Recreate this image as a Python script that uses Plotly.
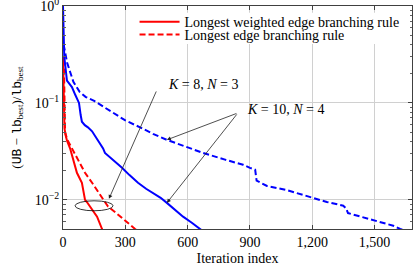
import numpy as np
import plotly.graph_objects as go

# ---------------- data ----------------
blue_solid_x = [0, 2, 6, 19, 43, 60, 77, 85, 91, 105, 120, 140, 164, 193, 202, 240, 284, 320, 361, 400, 433, 470, 500, 540, 578, 620, 660, 700]
blue_solid_y = [1.0, 0.40, 0.30, 0.17, 0.146, 0.12, 0.10, 0.075, 0.064, 0.059, 0.056, 0.051, 0.043, 0.034, 0.0305, 0.026, 0.0214, 0.018, 0.015, 0.013, 0.0118, 0.0105, 0.0093, 0.0079, 0.0067, 0.0058, 0.005, 0.0043]

blue_dash_x = [3, 10, 20, 34, 50, 80, 110, 150, 200, 250, 300, 371, 433, 500, 580, 674, 780, 867, 900, 925, 932, 982, 1077, 1173, 1270, 1349, 1362, 1372, 1494, 1590, 1623, 1680]
blue_dash_y = [0.40, 0.33, 0.26, 0.21, 0.165, 0.13, 0.115, 0.105, 0.09, 0.077, 0.066, 0.056, 0.048, 0.0416, 0.036, 0.0305, 0.026, 0.023, 0.0214, 0.0205, 0.0158, 0.0139, 0.0126, 0.011, 0.0095, 0.0087, 0.0082, 0.0073, 0.0062, 0.0054, 0.005, 0.0045]

red_solid_x = [0, 2, 4, 7, 12, 19, 34, 48, 67, 91, 106, 115, 140, 164, 188, 200]
red_solid_y = [0.30, 0.15, 0.08, 0.055, 0.047, 0.041, 0.034, 0.026, 0.019, 0.015, 0.010, 0.0095, 0.0079, 0.0067, 0.005, 0.0045]

red_dash_x = [4, 6, 10, 20, 43, 58, 80, 106, 140, 188, 217, 250, 284, 347, 380]
red_dash_y = [0.28, 0.12, 0.05, 0.042, 0.034, 0.030, 0.024, 0.019, 0.015, 0.0107, 0.0085, 0.0075, 0.0065, 0.005, 0.0045]

legend_names = ["Longest weighted edge branching rule", "Longest edge branching rule"]
x_ticks = [0, 300, 600, 900, 1200, 1500]
y_ticks = [1, 0.1, 0.01]
y_ticktext = ["10<sup>0</sup>", "10<sup>−1</sup>", "10<sup>−2</sup>"]

FONT = "Liberation Serif"
MONO = "Liberation Mono"
RED = "#ff0000"
BLUE = "#0000ff"
FS = 14

fig = go.Figure()
fig.add_trace(go.Scatter(x=red_solid_x, y=red_solid_y, mode="lines", name=legend_names[0],
                         legend="legend", line=dict(color=RED, width=2)))
fig.add_trace(go.Scatter(x=red_dash_x, y=red_dash_y, mode="lines", name=legend_names[1],
                         legend="legend2", line=dict(color=RED, width=2, dash="6px,3px")))
fig.add_trace(go.Scatter(x=blue_solid_x, y=blue_solid_y, mode="lines", showlegend=False,
                         line=dict(color=BLUE, width=2)))
fig.add_trace(go.Scatter(x=blue_dash_x, y=blue_dash_y, mode="lines", showlegend=False,
                         line=dict(color=BLUE, width=2, dash="6px,3px")))

def interp_log(xs, ys, x):
    return float(np.interp(x, xs, np.log10(ys)))

# white background behind the legend
fig.add_shape(type="rect", xref="paper", yref="paper", x0=0.195, x1=0.99, y0=0.83, y1=0.97,
              fillcolor="white", line=dict(width=0), layer="above")

# ellipse around the K=8,N=3 curves
ell_x0, ell_x1 = 58, 241
ell_ly0, ell_ly1 = -2.113, -2.01
fig.add_shape(type="circle", xref="x", yref="y", x0=ell_x0, x1=ell_x1,
              y0=10 ** ell_ly0, y1=10 ** ell_ly1, line=dict(color="black", width=0.8))

arrow_style = dict(showarrow=True, arrowhead=2, arrowsize=1, arrowwidth=0.8, arrowcolor="#222",
                   axref="x", ayref="y", xref="x", yref="y", text="")
# K=8 arrow
fig.add_annotation(x=221, y=-1.99, ax=452, ay=-0.866, **arrow_style)
# K=10 arrows
tail_x, tail_ly = 842, -1.103
fig.add_annotation(x=500, y=interp_log(blue_dash_x, blue_dash_y, 500), ax=tail_x, ay=tail_ly, **arrow_style)
fig.add_annotation(x=500, y=interp_log(blue_solid_x, blue_solid_y, 500), ax=tail_x, ay=tail_ly, **arrow_style)

fig.add_annotation(x=498, y=-0.814, xref="x", yref="y", xanchor="left", yanchor="middle",
                   text="<i>K</i> = 8, <i>N</i> = 3", showarrow=False,
                   font=dict(family=FONT, size=14, color="black"))
fig.add_annotation(x=878, y=-1.072, xref="x", yref="y", xanchor="left", yanchor="middle",
                   text="<i>K</i> = 10, <i>N</i> = 4", showarrow=False,
                   font=dict(family=FONT, size=14, color="black"))

minor_vals = [m * 10.0 ** e for e in (-3, -2, -1) for m in range(2, 10)]

ytitle = ("(<span style=\"font-family:%s\">UB</span> − <span style=\"font-family:%s\">lb</span>"
          "<sub>best</sub>)/<span style=\"font-family:%s\">lb</span><sub>best</sub>") % (MONO, MONO, MONO)

fig.update_xaxes(range=[0, 1680], tickvals=x_ticks, tickformat=",", showgrid=True,
                 gridcolor="#d0d0d0", gridwidth=1, zeroline=False, automargin=False,
                 showline=True, mirror="ticks", linecolor="#404040", linewidth=1,
                 ticks="inside", ticklen=4, tickcolor="#404040", ticklabeloverflow="allow",
                 tickfont=dict(family=FONT, size=FS, color="black"),
                 title=dict(text="Iteration index", font=dict(family=FONT, size=FS, color="black"), standoff=4))
fig.update_yaxes(type="log", range=[np.log10(0.005), 0.0005], tickvals=y_ticks, ticktext=y_ticktext,
                 showgrid=True, gridcolor="#d0d0d0", gridwidth=1, zeroline=False, automargin=False,
                 showline=True, mirror="ticks", linecolor="#404040", linewidth=1,
                 ticks="inside", ticklen=4, tickcolor="#404040", ticklabeloverflow="allow",
                 minor=dict(tickvals=minor_vals, ticks="inside", ticklen=2.5, tickcolor="#606060", showgrid=False),
                 tickfont=dict(family=FONT, size=FS, color="black"),
                 title=dict(text=ytitle, font=dict(family=FONT, size=13, color="black"), standoff=10))

leg_common = dict(xanchor="left", yanchor="middle", bgcolor="rgba(0,0,0,0)",
                  font=dict(family=FONT, size=14, color="black"), itemwidth=40)
fig.update_layout(
    width=416, height=268,
    margin=dict(l=63, r=4, t=6, b=39),
    font=dict(family=FONT, size=14, color="black"),
    plot_bgcolor="white", paper_bgcolor="white",
    legend=dict(x=0.205, y=0.928, **leg_common),
    legend2=dict(x=0.205, y=0.870, **leg_common),
    showlegend=True,
)

fig.write_html("out.html", config={"displayModeBar": False},
               post_script="document.body.style.margin='0';document.body.style.overflow='hidden';")
